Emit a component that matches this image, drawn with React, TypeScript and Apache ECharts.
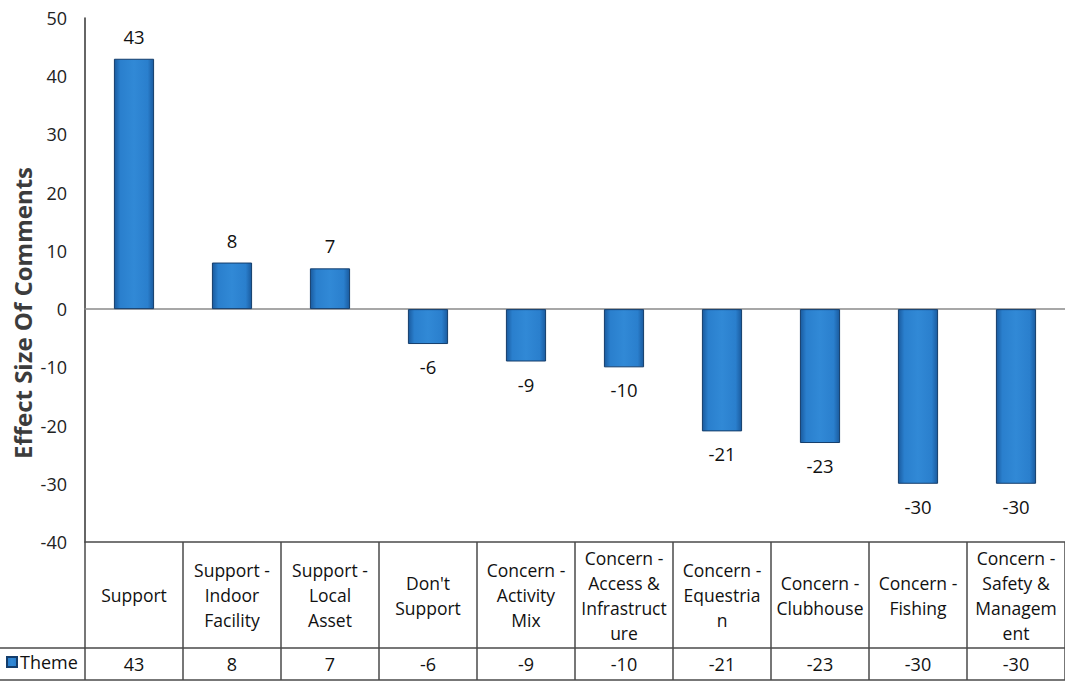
import React, { useEffect, useRef } from 'react';
import * as echarts from 'echarts';

const categories = [
  'Support',
  'Support -\nIndoor\nFacility',
  'Support -\nLocal\nAsset',
  "Don't\nSupport",
  'Concern -\nActivity\nMix',
  'Concern -\nAccess &\nInfrastruct\nure',
  'Concern -\nEquestria\nn',
  'Concern -\nClubhouse',
  'Concern -\nFishing',
  'Concern -\nSafety &\nManagem\nent',
];
const themeValues = [43, 8, 7, -6, -9, -10, -21, -23, -30, -30];
const seriesName = 'Theme';
const yAxisTitle = 'Effect Size Of Comments';
const yMin = -40;
const yMax = 50;
const yInterval = 10;

const FONT = '"Open Sans", sans-serif';
const LINE = '#4a4a4a';

export default function App() {
  const ref = useRef<HTMLDivElement>(null);
  useEffect(() => {
    if (!ref.current) return;
    const chart = echarts.init(ref.current, null, { renderer: 'svg' });
    const barColor = new echarts.graphic.LinearGradient(0, 0, 1, 0, [
      { offset: 0, color: '#1a5b9f' },
      { offset: 0.15, color: '#2a7fcd' },
      { offset: 0.5, color: '#3189d6' },
      { offset: 0.85, color: '#2a7fcd' },
      { offset: 1, color: '#1a5b9f' },
    ]);
    chart.setOption({
      animation: false,
      textStyle: { fontFamily: FONT },
      grid: { left: 85, right: -3, top: 18, bottom: 140, containLabel: false },
      legend: {
        left: 6,
        top: 653,
        padding: 0,
        icon: 'rect',
        itemWidth: 10,
        itemHeight: 10,
        itemGap: 4,
        textStyle: { fontSize: 18, color: '#111', fontFamily: FONT, padding: [0, 0, 0, -2] },
        data: [seriesName],
      },
      xAxis: [
        {
          type: 'category',
          data: categories,
          position: 'bottom',
          axisLine: { onZero: true, lineStyle: { color: '#8a8a8a', width: 1.5 } },
          axisTick: { show: false },
          axisLabel: { show: false },
        },
        {
          type: 'category',
          data: categories,
          position: 'bottom',
          axisLine: { onZero: false, lineStyle: { color: LINE, width: 1.5 } },
          axisTick: { show: true, interval: 0, length: 106, lineStyle: { color: LINE, width: 1.5 } },
          axisLabel: {
            interval: 0,
            margin: 53,
            verticalAlign: 'middle',
            align: 'center',
            fontSize: 17.5,
            lineHeight: 25,
            color: '#111',
            fontFamily: FONT,
          },
        },
        {
          type: 'category',
          data: categories,
          position: 'bottom',
          offset: 106,
          axisLine: { onZero: false, lineStyle: { color: LINE, width: 1.5 } },
          axisTick: { show: true, interval: 0, length: 32, lineStyle: { color: LINE, width: 1.5 } },
          axisLabel: {
            interval: 0,
            margin: 16,
            verticalAlign: 'middle',
            align: 'center',
            fontSize: 18,
            color: '#111',
            fontFamily: FONT,
            formatter: (_v: string, i: number) => String(themeValues[i]),
          },
        },
      ],
      yAxis: {
        type: 'value',
        min: yMin,
        max: yMax,
        interval: yInterval,
        axisLine: { show: true, lineStyle: { color: '#333', width: 1.5 } },
        axisTick: { show: false },
        splitLine: { show: false },
        axisLabel: { fontSize: 18, color: '#222', margin: 18, fontFamily: FONT },
      },
      graphic: [
        {
          type: 'text',
          x: 22,
          y: 313,
          rotation: Math.PI / 2,
          style: {
            text: yAxisTitle,
            align: 'center',
            verticalAlign: 'middle',
            fontSize: 24,
            fontWeight: 'bold',
            fontFamily: FONT,
            fill: '#3c3c3c',
          },
        },
        { type: 'line', shape: { x1: 0, y1: 648, x2: 85, y2: 648 }, style: { stroke: LINE, lineWidth: 1.5 } },
        { type: 'line', shape: { x1: 0, y1: 680, x2: 1065, y2: 680 }, style: { stroke: LINE, lineWidth: 1.5 } },
      ],
      series: [
        {
          name: seriesName,
          type: 'bar',
          xAxisIndex: 0,
          barWidth: '41%',
          itemStyle: { color: barColor, borderColor: '#143d6b', borderWidth: 1 },
          label: {
            show: true,
            fontSize: 18.5,
            color: '#111',
            fontFamily: FONT,
            distance: 13,
          },
          data: themeValues.map((v) => ({
            value: v,
            label: { position: v >= 0 ? 'top' : 'bottom' },
          })),
        },
      ],
    });
    return () => chart.dispose();
  }, []);
  return (
    <div
      ref={ref}
      style={{ position: 'fixed', left: 0, top: 0, width: 1065, height: 682, background: '#fff' }}
    />
  );
}
